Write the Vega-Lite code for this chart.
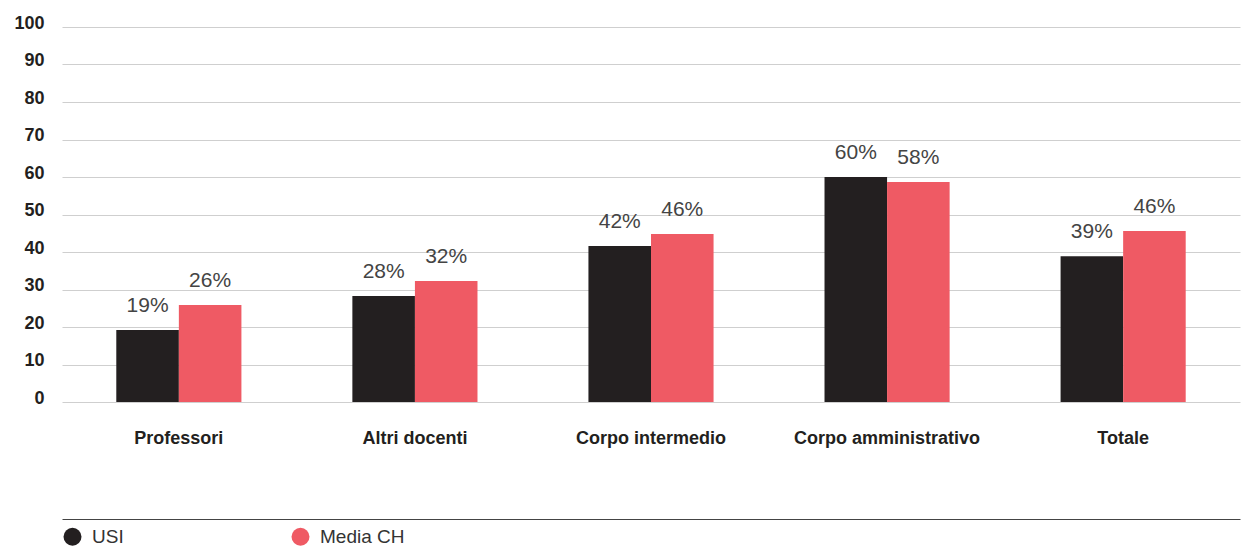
{
  "$schema": "https://vega.github.io/schema/vega-lite/v6.json",
  "width": 1178,
  "height": 375,
  "autosize": {"type": "none"},
  "padding": {"left": 62, "top": 27, "right": 1, "bottom": 145},
  "background": "white",
  "config": {
    "view": {"stroke": null},
    "font": "Liberation Sans"
  },
  "data": {
    "values": [
      {"cat": "Professori", "group": "USI", "value": 19.2, "label": "19%"},
      {"cat": "Professori", "group": "Media CH", "value": 25.9, "label": "26%"},
      {"cat": "Altri docenti", "group": "USI", "value": 28.3, "label": "28%"},
      {"cat": "Altri docenti", "group": "Media CH", "value": 32.3, "label": "32%"},
      {"cat": "Corpo intermedio", "group": "USI", "value": 41.6, "label": "42%"},
      {"cat": "Corpo intermedio", "group": "Media CH", "value": 44.8, "label": "46%"},
      {"cat": "Corpo amministrativo", "group": "USI", "value": 60.0, "label": "60%"},
      {"cat": "Corpo amministrativo", "group": "Media CH", "value": 58.7, "label": "58%"},
      {"cat": "Totale", "group": "USI", "value": 38.9, "label": "39%"},
      {"cat": "Totale", "group": "Media CH", "value": 45.6, "label": "46%"}
    ]
  },
  "encoding": {
    "x": {
      "field": "cat",
      "type": "nominal",
      "sort": null,
      "scale": {"paddingInner": 0.47, "paddingOuter": 0.23},
      "axis": {
        "title": null,
        "orient": "bottom",
        "offset": 117,
        "domain": true,
        "domainColor": "#444444",
        "domainWidth": 1,
        "ticks": false,
        "labelAngle": 0,
        "labelPadding": -76,
        "labelLimit": 400,
        "labelFontSize": 18,
        "labelFontWeight": "bold",
        "labelColor": "#231f20",
        "labelBaseline": "alphabetic"
      }
    },
    "xOffset": {"field": "group", "type": "nominal", "sort": ["USI", "Media CH"], "scale": {"paddingInner": 0, "paddingOuter": 0}},
    "y": {
      "field": "value",
      "type": "quantitative",
      "scale": {"domain": [0, 100]},
      "axis": {
        "title": null,
        "values": [0, 10, 20, 30, 40, 50, 60, 70, 80, 90, 100],
        "labelOverlap": false,
        "domain": false,
        "ticks": false,
        "grid": true,
        "gridColor": "#cfcfcf",
        "gridWidth": 1,
        "labelPadding": 18,
        "labelFontSize": 18,
        "labelFontWeight": "bold",
        "labelColor": "#231f20",
        "labelBaseline": "alphabetic",
        "labelOffset": 1
      }
    }
  },
  "layer": [
    {
      "mark": {"type": "bar"},
      "encoding": {
        "color": {
          "field": "group",
          "type": "nominal",
          "sort": ["USI", "Media CH"],
          "scale": {"domain": ["USI", "Media CH"], "range": ["#231f20", "#ef5a64"]},
          "legend": {
            "title": null,
            "orient": "none",
            "legendX": 1,
            "legendY": 500,
            "direction": "horizontal",
            "symbolType": "circle",
            "symbolSize": 324,
            "symbolStrokeWidth": 0,
            "labelFontSize": 19,
            "labelColor": "#333333",
            "labelOffset": 10,
            "columnPadding": 114,
            "gridAlign": "all",
            "padding": 0
          }
        }
      }
    },
    {
      "mark": {"type": "text", "fontSize": 21, "color": "#444444", "dy": -24, "baseline": "middle", "font": "Liberation Sans"},
      "encoding": {
        "text": {"field": "label"}
      }
    }
  ]
}
